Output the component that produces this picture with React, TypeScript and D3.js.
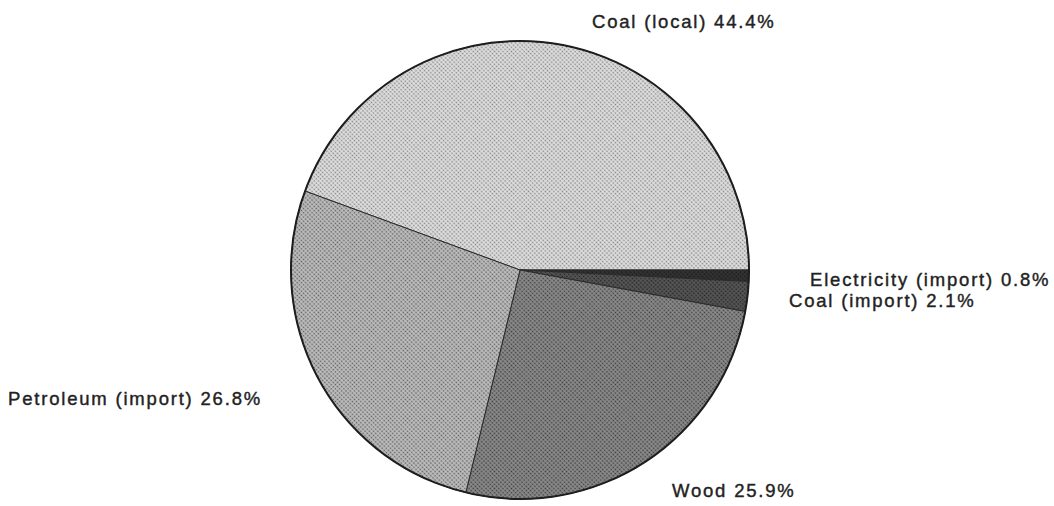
import React from "react";
import * as d3 from "d3";

const categories = ["Coal (local)", "Electricity (import)", "Coal (import)", "Wood", "Petroleum (import)"];
const shares = [44.4, 0.8, 2.1, 25.9, 26.8];
const labelText = ["Coal (local) 44.4%", "Electricity (import) 0.8%", "Coal (import) 2.1%", "Wood 25.9%", "Petroleum (import) 26.8%"];

// layout (not data)
const W = 1054, H = 506;
const CX = 520, CY = 270, R = 229;
const labelPos: [number, number][] = [[592, 28], [810, 286], [789, 307], [672, 497], [8, 405]];
const fills = [
  { base: "#dedede", dot: "#808080" },
  { base: "#333333", dot: "#161616" },
  { base: "#555555", dot: "#222222" },
  { base: "#8a8a8a", dot: "#383838" },
  { base: "#bdbdbd", dot: "#5a5a5a" },
];

export default function App() {
  const data = categories.map((c, i) => ({ c, v: shares[i], i }));
  const start = Math.PI / 2 - 2 * Math.PI * (shares[0] / 100);
  const pie = d3.pie<any>().value((d) => d.v).sort(null).startAngle(start).endAngle(start + 2 * Math.PI);
  const arcs = pie(data);
  const arc = d3.arc<any>().innerRadius(0).outerRadius(R);
  return (
    <svg width={W} height={H} style={{ position: "absolute", left: 0, top: 0, display: "block", background: "#fff" }}>
      <defs>
        {fills.map((f, i) => (
          <pattern key={i} id={`p${i}`} width={3} height={3} patternUnits="userSpaceOnUse" patternTransform="rotate(45)">
            <rect width={3} height={3} fill={f.base} />
            <circle cx={1.5} cy={1.5} r={0.85} fill={f.dot} />
          </pattern>
        ))}
      </defs>
      <g transform={`translate(${CX},${CY})`}>
        {arcs.map((a, i) => (
          <path key={i} d={arc(a) || ""} fill={`url(#p${i})`} stroke="#2a2a2a" strokeWidth={1} />
        ))}
        <circle r={R} fill="none" stroke="#1e1e1e" strokeWidth={2} />
      </g>
      {labelText.map((t, i) => (
        <text key={i} x={labelPos[i][0]} y={labelPos[i][1]} fontFamily="'Liberation Sans', Arial, sans-serif" fontSize={18.5} letterSpacing={1.8} fill="#222" stroke="#222" strokeWidth={0.4}>
          {t}
        </text>
      ))}
    </svg>
  );
}
